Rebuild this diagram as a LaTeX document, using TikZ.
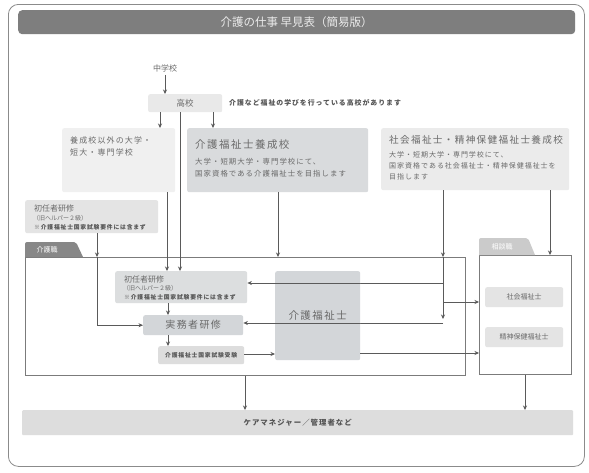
\documentclass[tikz,border=0pt]{standalone}
\usepackage{fontspec}
\setmainfont{Noto Sans CJK JP}
\newfontfamily\jpsp{Noto Sans CJK JP}[LetterSpace=14]
\usetikzlibrary{arrows.meta}
\definecolor{txt}{HTML}{6A6A6A}
\definecolor{dtxt}{HTML}{555555}
\definecolor{ln}{HTML}{5A5A5A}
\definecolor{titlebg}{HTML}{7E7E7E}
\definecolor{gA}{HTML}{E9E9E9}
\definecolor{gB}{HTML}{F0F0F0}
\definecolor{gC}{HTML}{D9DBDD}
\definecolor{gD}{HTML}{EBEBEB}
\definecolor{gE}{HTML}{E4E4E4}
\definecolor{gF}{HTML}{DCDEDF}
\definecolor{gG}{HTML}{D3D6D9}
\definecolor{gH}{HTML}{DDDDDD}
\definecolor{tabA}{HTML}{878787}
\definecolor{tabB}{HTML}{CBCBCB}
\begin{document}
\begin{tikzpicture}[x=1pt,y=-1pt,
  box/.style={rounded corners=2pt,draw=none,anchor=north west,inner sep=0pt},
  arr/.style={draw=ln,line width=0.6pt,-{Stealth[length=4.5pt,width=4pt]}},
  plain/.style={draw=ln,line width=0.6pt},
  frm/.style={draw=ln!80,line width=0.7pt,fill=white,anchor=north west,inner sep=0pt},
  lbl/.style={text=txt,inner sep=0pt},
  note/.style={text=dtxt,inner sep=0pt,font=\bfseries\jpsp\fontsize{5.8}{6.5}\selectfont},
]
\useasboundingbox (0,0) rectangle (589,472);
\fill[white] (0,0) rectangle (589,472);
% outer frame
\node[draw=ln!70,line width=0.8pt,rounded corners=10pt,anchor=north west,minimum width=576pt,minimum height=462pt,inner sep=0pt] (outer) at (8,4) {};
% title
\node[box,rounded corners=4pt,fill=titlebg,minimum width=557pt,minimum height=24pt] (title) at (18,10) {};
\node[text=white!92!black,font=\fontsize{11.5}{12}\selectfont] (titletxt) at (title.center) {介護の仕事\ 早見表（簡易版）};

% top
\node[lbl,font=\fontsize{8}{9}\selectfont] (chu) at (165,68) {中学校};
\node[box,fill=gA,minimum width=74pt,minimum height=18pt] (kou) at (148,94) {};
\node[lbl,font=\fontsize{8.5}{9}\selectfont] (koutxt) at (kou.center) {高校};
\node[note,font=\bfseries\jpsp\fontsize{6.9}{7}\selectfont,anchor=west] (kounote) at (229,103) {介護など福祉の学びを行っている高校があります};

% schools
\node[box,fill=gB,minimum width=113pt,minimum height=64pt] (yg) at (62,128) {};
\node[lbl,anchor=north west,align=left,font=\jpsp\fontsize{8}{12}\selectfont] (ygtxt) at (70,137) {養成校以外の大学・\\短大・専門学校};

\node[box,fill=gC,minimum width=181pt,minimum height=64pt] (ky) at (187,128) {};
\node[lbl,anchor=west,font=\jpsp\fontsize{10.5}{12}\selectfont] (kyt) at (195,145) {介護福祉士養成校};
\node[lbl,anchor=north west,align=left,font=\jpsp\fontsize{7.4}{12}\selectfont] (kyb) at (195,158) {大学・短期大学・専門学校にて、\\国家資格である介護福祉士を目指します};

\node[box,fill=gD,minimum width=188pt,minimum height=62pt] (sy) at (381,128) {};
\node[lbl,anchor=west,font=\jpsp\fontsize{9.6}{12}\selectfont] (syt) at (389,140) {社会福祉士・精神保健福祉士養成校};
\node[lbl,anchor=north west,align=left,font=\jpsp\fontsize{7}{11}\selectfont] (syb) at (389,151) {大学・短期大学・専門学校にて、\\国家資格である社会福祉士・精神保健福祉士を\\目指します};

% left shonin
\node[box,fill=gE,minimum width=133pt,minimum height=33pt] (sl) at (25,200) {};
\node[lbl,anchor=west,font=\fontsize{8}{9}\selectfont] (slt1) at (34,208) {初任者研修};
\node[lbl,anchor=west,font=\fontsize{6}{7}\selectfont] (slt2) at (33,218) {（旧ヘルパー２級）};
\node[note,anchor=west] (slt3) at (34,227) {※介護福祉士国家試験要件には含まず};

% kaigo frame
\node[frm,minimum width=440pt,minimum height=118pt] (kf) at (25,257) {};
\fill[tabA,rounded corners=2pt] (25,257) -- (25,242) -- (76,242) [sharp corners] -- (83,257) -- cycle;
\node[text=white,inner sep=0pt,font=\fontsize{7}{8}\selectfont] (kftab) at (47,250) {介護職};

% soudan frame
\node[frm,minimum width=92pt,minimum height=119pt] (sf) at (479,255) {};
\fill[tabB,rounded corners=2pt] (479,255) -- (479,238) -- (528,238) [sharp corners] -- (535,255) -- cycle;
\node[text=white,inner sep=0pt,font=\fontsize{7}{8}\selectfont] (sftab) at (502,247) {相談職};

% junction points on the line from the social-welfare school
\coordinate (j0) at (443,257);
\coordinate (j1) at (443,283);
\coordinate (j2) at (443,302);
\coordinate (j3) at (443,319);
\coordinate (j4) at (443,323);

% inner kaigo boxes
\node[box,fill=gF,minimum width=132pt,minimum height=32pt] (si) at (115,271) {};
\node[lbl,anchor=west,font=\fontsize{8}{9}\selectfont] (sit1) at (124,279) {初任者研修};
\node[lbl,anchor=west,font=\fontsize{6}{7}\selectfont] (sit2) at (123,288) {（旧ヘルパー２級）};
\node[note,anchor=west] (sit3) at (124,297) {※介護福祉士国家試験要件には含まず};

\node[box,fill=gG,minimum width=100pt,minimum height=20pt] (jm) at (143,315) {};
\node[lbl,font=\jpsp\fontsize{10}{11}\selectfont] (jmt) at (jm.center) {実務者研修};

\node[box,fill=gH,minimum width=86pt,minimum height=18pt] (ex) at (158,346) {};
\node[note] (ext) at (ex.center) {介護福祉士国家試験受験};

\draw[plain] (j1) -- (j1 -| 360,0);
\draw[plain] (j4) -- (j4 -| 360,0);
\node[box,fill=gG,minimum width=85pt,minimum height=89pt] (kfs) at (275,271) {};
\node[lbl,font=\jpsp\fontsize{10.5}{11}\selectfont] (kfst) at (kfs.center) {介護福祉士};

% soudan inner
\node[box,fill=gE,minimum width=78pt,minimum height=20pt] (ss) at (485,287) {};
\node[lbl,font=\fontsize{7}{8}\selectfont] (sst) at (ss.center) {社会福祉士};
\node[box,fill=gE,minimum width=78pt,minimum height=20pt] (sh) at (485,327) {};
\node[lbl,font=\fontsize{7}{8}\selectfont] (sht) at (sh.center) {精神保健福祉士};

% care manager bar
\node[box,fill=gH,rounded corners=1pt,minimum width=551pt,minimum height=25pt] (cm) at (22,410) {};
\node[note,font=\bfseries\jpsp\fontsize{7.4}{8}\selectfont] (cmt) at (cm.center) {ケアマネジャー／管理者など};

% arrows
\draw[arr] (chu.south -| 165,0) ++(0,3) -- (kou.north -| 165,0);
\draw[arr] (kou.south -| 160,0) -- (yg.north -| 160,0);
\draw[arr] (kou.south -| 180,0) -- (si.north -| 180,0);
\draw[arr] (kou.south -| 213,0) -- (ky.north -| 213,0);
\draw[arr] (yg.south -| 167,0) -- (si.north -| 167,0);
\draw[arr] (sl.south -| 97,0) -- (kf.north -| 97,0);
\draw[arr] (kf.north -| 97,0) |- (jm.west);
\draw[arr] (ky.south -| 278,0) -- (kf.north -| 278,0);
\draw[arr] (sy.south -| 443,0) -- (j0);
\draw[arr] (j0) -- (j3);
\draw[arr] (j1 -| 360,0) -- (j1 -| si.east);
\draw[arr] (j4 -| 360,0) -- (j4 -| jm.east);
\draw[arr] (j2) -- (j2 -| sf.west);
\draw[arr] (sy.south -| 550,0) -- (sf.north -| 550,0);
\draw[arr] (si.south -| 168,0) -- (jm.north -| 168,0);
\draw[arr] (jm.south -| 168,0) -- (ex.north -| 168,0);
\draw[arr] (ex.east |- 0,354) -- (kfs.west |- 0,354);
\draw[arr] (kfs.east |- 0,353) -- (sf.west |- 0,353);
\draw[arr] (kf.south -| 245,0) -- (cm.north -| 245,0);
\draw[arr] (sf.south -| 525,0) -- (cm.north -| 525,0);
\end{tikzpicture}
\end{document}
